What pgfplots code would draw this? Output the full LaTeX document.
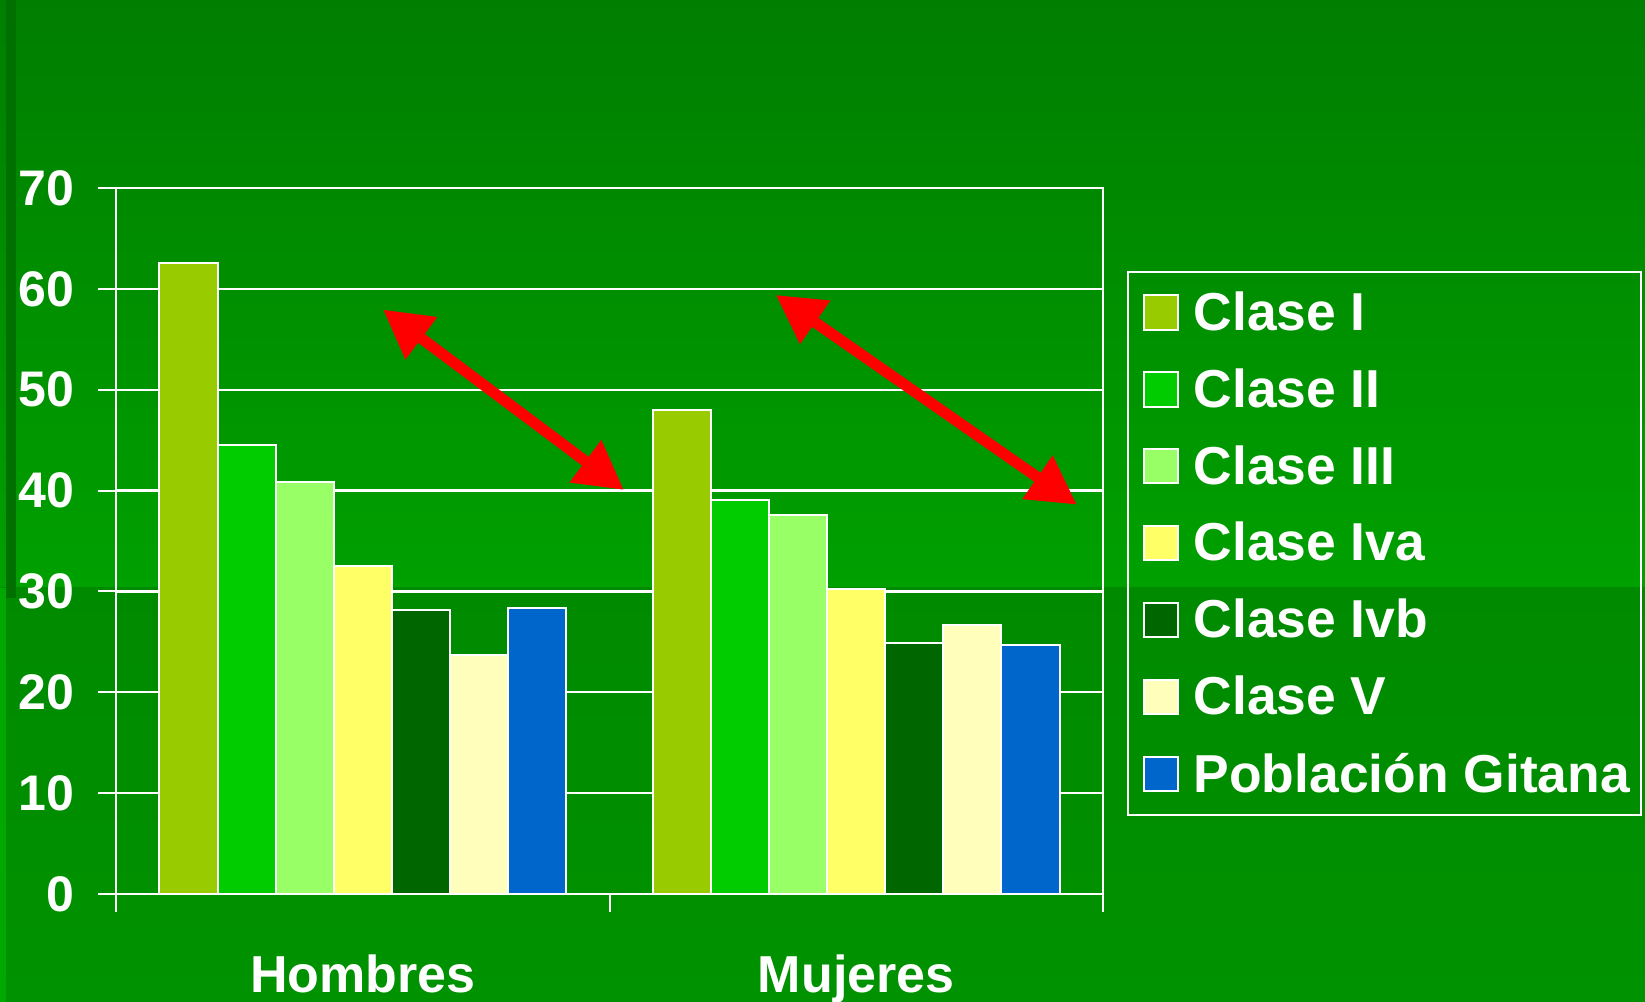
\documentclass[border=0pt]{standalone}
\usepackage{fontspec}
\setmainfont{Liberation Sans}
\usepackage{pgfplots}
\pgfplotsset{compat=1.18}
\usetikzlibrary{arrows.meta}
\definecolor{bgtop}{RGB}{0,126,0}
\definecolor{bgmid}{RGB}{0,160,0}
\definecolor{bglowa}{RGB}{0,138,0}
\definecolor{bglowb}{RGB}{0,146,0}
\definecolor{leftstrip}{RGB}{0,168,0}
\definecolor{darkstrip}{RGB}{0,112,0}
\definecolor{cI}{HTML}{99CC00}
\definecolor{cII}{HTML}{00CC00}
\definecolor{cIII}{HTML}{99FF66}
\definecolor{cIVa}{HTML}{FFFF66}
\definecolor{cIVb}{HTML}{006600}
\definecolor{cV}{HTML}{FFFFBB}
\definecolor{cG}{HTML}{0066CC}
\newcommand{\tickfont}{\bfseries\fontsize{25}{30}\selectfont}
\newcommand{\catfont}{\bfseries\fontsize{26}{31}\selectfont}
\newcommand{\legfont}{\bfseries\fontsize{26.7}{32}\selectfont}
\begin{document}
\begin{tikzpicture}
\useasboundingbox (0,0) rectangle (822.5pt,501pt);
\shade[top color=bgtop, bottom color=bgmid] (0pt,207pt) rectangle (822.5pt,501pt);
\shade[top color=bglowa, bottom color=bglowb] (0pt,0pt) rectangle (822.5pt,207pt);
\fill[leftstrip] (0pt,0pt) rectangle (3pt,207pt);
\fill[darkstrip] (3pt,202pt) rectangle (8pt,501pt);
\begin{axis}[
  at={(58pt,54pt)}, anchor=south west,
  scale only axis, width=493.5pt, height=353pt,
  xmin=-0.5, xmax=1.5, ymin=0, ymax=70,
  ybar=0pt, bar width=0.1177,
  axis line style={white, line width=1pt},
  xtick={-0.5,0.5,1.5}, xticklabels={},
  extra x ticks={0,1}, extra x tick labels={Hombres,Mujeres},
  extra x tick style={major tick length=0pt, xticklabel style={anchor=base, yshift=-49pt, font=\catfont}},
  ytick={0,10,...,70},
  xtick pos=bottom, ytick pos=left,
  ymajorgrids, grid style={white, line width=1.2pt},
  tick align=outside, major tick length=9pt,
  tick style={white, line width=1pt},
  every tick label/.append style={text=white, font=\tickfont},
  /pgf/number format/assume math mode=true,
  yticklabel style={anchor=east, inner sep=0pt, xshift=-11.5pt},
  every axis plot/.append style={draw=white, line width=1pt},
  legend image code/.code={\path (0pt,0pt); \draw[#1, draw=white, line width=1pt] (1.6pt,-8.6pt) rectangle (18.8pt,8.6pt);},
  legend cell align=left,
  legend style={at={(1.024,0.883)}, anchor=north west, draw=white, line width=1pt, fill=none,
    text=white, font=\legfont, row sep=13.6pt, inner xsep=5.8pt, inner ysep=8pt,
    column sep=7.4pt, nodes={inner xsep=0pt}},
]
\addplot[fill=cI] coordinates {(0,62.6) (1,48.0)};
\addplot[fill=cII] coordinates {(0,44.5) (1,39.1)};
\addplot[fill=cIII] coordinates {(0,40.9) (1,37.6)};
\addplot[fill=cIVa] coordinates {(0,32.5) (1,30.2)};
\addplot[fill=cIVb] coordinates {(0,28.2) (1,24.9)};
\addplot[fill=cV] coordinates {(0,23.7) (1,26.7)};
\addplot[fill=cG] coordinates {(0,28.4) (1,24.7)};
\legend{Clase I, Clase II, Clase III, Clase Iva, Clase Ivb, Clase V, Población Gitana}
\draw[red, line width=5.5pt, {Triangle[length=24pt,width=25pt]}-{Triangle[length=24pt,width=25pt]}]
  (axis cs:0.041,57.95) -- (axis cs:0.529,40.06);
\draw[red, line width=5.5pt, {Triangle[length=24pt,width=25pt]}-{Triangle[length=24pt,width=25pt]}]
  (axis cs:0.837,59.4) -- (axis cs:1.447,38.6);
\end{axis}
\end{tikzpicture}
\end{document}
